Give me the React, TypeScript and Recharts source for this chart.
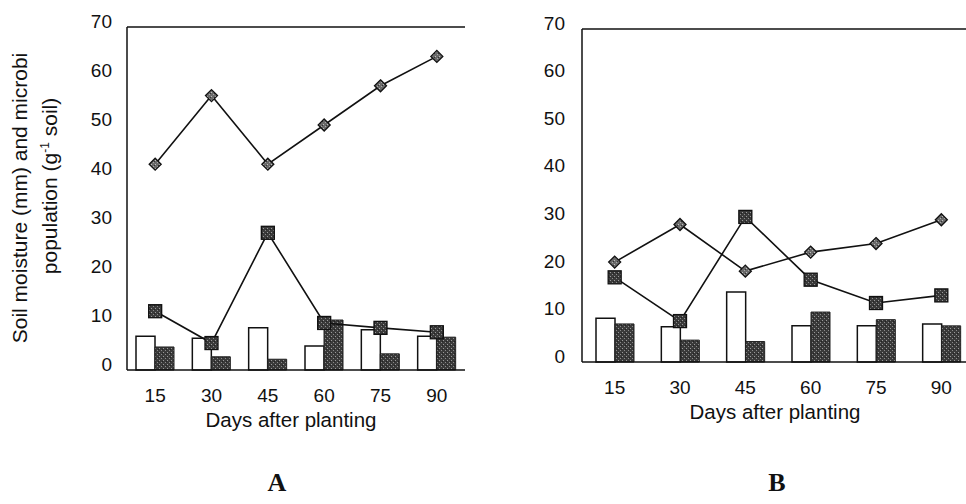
import React from "react";
import { ComposedChart, Bar, Line, XAxis, YAxis, ReferenceLine } from "recharts";

// days after planting
const days = ["15", "30", "45", "60", "75", "90"];
const yTicks = [0, 10, 20, 30, 40, 50, 60, 70];

// panel A
const diamondA = [42, 56, 42, 50, 58, 64];
const squareA = [12, 5.5, 28, 9.6, 8.6, 7.7];
const openA = [6.9, 6.5, 8.6, 4.9, 8.2, 6.9];
const darkA = [4.7, 2.7, 2.2, 10.2, 3.3, 6.7];

// panel B
const diamondB = [21, 28.9, 19.1, 23.1, 24.9, 29.9];
const squareB = [17.8, 8.6, 30.5, 17.3, 12.4, 14];
const openB = [9.2, 7.4, 14.7, 7.6, 7.6, 8.0];
const darkB = [8.0, 4.6, 4.3, 10.5, 8.9, 7.6];

const build = (dia: number[], sq: number[], op: number[], dk: number[]) =>
  days.map((d, i) => ({ day: d, diamond: dia[i], square: sq[i], open: op[i], dark: dk[i] }));

const dataA = build(diamondA, squareA, openA, darkA);
const dataB = build(diamondB, squareB, openB, darkB);

const FONT = '"Liberation Sans", Arial, sans-serif';

const YTick = (props: any) => {
  const { x, y, payload } = props;
  return (
    <text x={x} y={y - 6} dy="0.355em" textAnchor="end" fontSize={19} fill="#111" fontFamily={FONT}>
      {payload.value}
    </text>
  );
};

const XTick = (props: any) => {
  const { x, y, payload } = props;
  return (
    <text x={x} y={y} dy="0.71em" textAnchor="middle" fontSize={19} fill="#111" fontFamily={FONT}>
      {payload.value}
    </text>
  );
};

const diamondDot = (props: any) => {
  const { cx, cy, index } = props;
  if (cx == null || cy == null) return <g key={index} />;
  const r = 6;
  return (
    <polygon
      key={index}
      points={`${cx},${cy - r} ${cx + r},${cy} ${cx},${cy + r} ${cx - r},${cy}`}
      fill="url(#dotsLight)"
      stroke="#111"
      strokeWidth={1.3}
    />
  );
};

const squareDot = (props: any) => {
  const { cx, cy, index } = props;
  if (cx == null || cy == null) return <g key={index} />;
  const s = 6.5;
  return (
    <rect key={index} x={cx - s} y={cy - s} width={s * 2} height={s * 2} fill="url(#dotsDark)" stroke="#111" strokeWidth={1.3} />
  );
};

function Panel({ data, width, height, top, right, tickGap, frameRight }: any) {
  return (
    <ComposedChart
      width={width}
      height={height}
      data={data}
      margin={{ top, right, bottom: 30, left: 0 }}
      barGap={0}
    >
      <XAxis
        dataKey="day"
        height={30}
        tickSize={0}
        tickMargin={19}
        tick={<XTick />}
        axisLine={{ stroke: "#111", strokeWidth: 1.5 }}
        tickLine={false}
      />
      <YAxis
        width={40}
        domain={[0, 70]}
        ticks={yTicks}
        interval={0}
        tickSize={0}
        tickMargin={tickGap}
        tick={<YTick />}
        axisLine={{ stroke: "#111", strokeWidth: 1.5 }}
        tickLine={false}
      />
      {frameRight && (
        <YAxis
          yAxisId="r"
          orientation="right"
          width={0}
          domain={[0, 70]}
          tick={false}
          tickLine={false}
          axisLine={{ stroke: "#111", strokeWidth: 1.3 }}
        />
      )}
      <ReferenceLine y={70} stroke="#111" strokeWidth={1.5} ifOverflow="visible" />
      <Bar dataKey="open" barSize={19} fill="#fff" stroke="#111" strokeWidth={1.5} isAnimationActive={false} />
      <Bar dataKey="dark" barSize={19} fill="url(#dotsDark)" stroke="#222" strokeWidth={1} isAnimationActive={false} />
      <Line dataKey="diamond" stroke="#111" strokeWidth={1.6} dot={diamondDot} activeDot={false} isAnimationActive={false} />
      <Line dataKey="square" stroke="#111" strokeWidth={1.6} dot={squareDot} activeDot={false} isAnimationActive={false} />
    </ComposedChart>
  );
}

export default function App() {
  const label: React.CSSProperties = {
    position: "absolute",
    fontFamily: FONT,
    fontSize: 20.5,
    color: "#111",
    whiteSpace: "nowrap",
    transform: "translate(-50%, -50%)",
  };
  const letter: React.CSSProperties = {
    ...label,
    fontFamily: '"Liberation Serif", "Times New Roman", serif',
    fontWeight: "bold",
    fontSize: 26,
  };
  return (
    <div
      style={{
        position: "absolute",
        left: 0,
        top: 0,
        width: 966,
        height: 504,
        overflow: "hidden",
        background: "#fff",
      }}
    >
      <svg width={80} height={504} style={{ position: "absolute", left: 0, top: 0 }}>
        <defs>
          <pattern id="dotsDark" width="4" height="4" patternUnits="userSpaceOnUse">
            <rect width="4" height="4" fill="#3a3a3a" />
            <rect x="0" y="0" width="1" height="1" fill="#9a9a9a" />
            <rect x="2" y="2" width="1" height="1" fill="#8a8a8a" />
            <rect x="3" y="1" width="1" height="1" fill="#222" />
          </pattern>
          <pattern id="dotsLight" width="4" height="4" patternUnits="userSpaceOnUse">
            <rect width="4" height="4" fill="#6a6a6a" />
            <rect x="0" y="0" width="1" height="1" fill="#bdbdbd" />
            <rect x="2" y="2" width="1" height="1" fill="#aaa" />
            <rect x="3" y="1" width="1" height="1" fill="#333" />
          </pattern>
        </defs>
        <text
          transform="translate(27,198) rotate(-90)"
          textAnchor="middle"
          fontFamily={FONT}
          fontSize={21}
          fill="#111"
        >
          Soil moisture (mm) and microbi
        </text>
        <text
          transform="translate(57,186) rotate(-90)"
          textAnchor="middle"
          fontFamily={FONT}
          fontSize={21}
          fill="#111"
        >
          population (g
          <tspan fontSize={12} dy={-8}>-1</tspan>
          <tspan dy={8}> soil)</tspan>
        </text>
      </svg>

      <div style={{ position: "absolute", left: 87, top: 0 }}>
        <Panel data={dataA} width={383} height={430} top={27} right={5} tickGap={15} frameRight />
      </div>
      <div style={{ position: "absolute", left: 542, top: 0 }}>
        <Panel data={dataB} width={432} height={422} top={29} right={0} tickGap={17} frameRight={false} />
      </div>

      <div style={{ ...label, left: 291, top: 420 }}>Days after planting</div>
      <div style={{ ...label, left: 775, top: 412 }}>Days after planting</div>
      <div style={{ ...letter, left: 277, top: 483 }}>A</div>
      <div style={{ ...letter, left: 777, top: 483 }}>B</div>
    </div>
  );
}
